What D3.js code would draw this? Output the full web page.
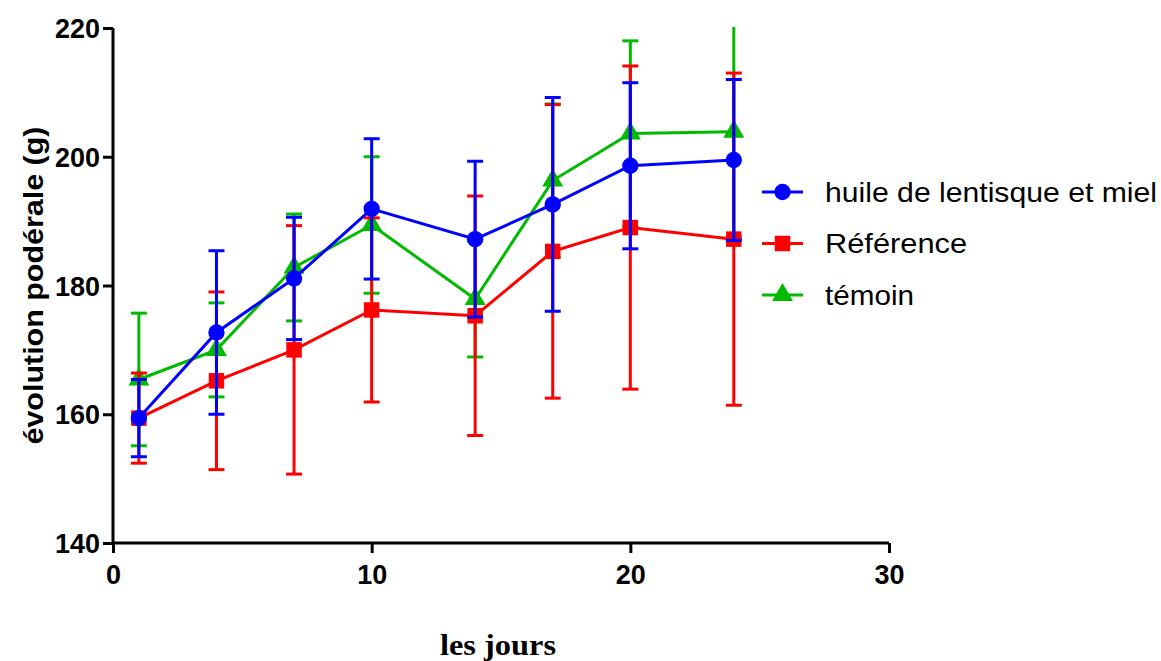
<!DOCTYPE html>
<html>
<head>
<meta charset="utf-8">
<script src="https://cdn.jsdelivr.net/npm/d3@7"></script>
<style>
  body { margin: 0; background: #fff; }
</style>
</head>
<body>
<script>
// data
const days = [1, 4, 7, 10, 14, 17, 20, 24];
const seriesNames = ["huile de lentisque et miel", "Référence", "témoin"];
const huileMean = [159.4, 172.7, 181.1, 191.9, 187.2, 192.6, 198.6, 199.5];
const huileErr  = [6.0, 12.7, 9.5, 10.9, 12.1, 16.6, 12.9, 12.5];
const refMean   = [159.4, 165.2, 170.0, 176.2, 175.3, 185.3, 189.0, 187.2];
const refErr    = [7.0, 13.8, 19.3, 14.3, 18.6, 22.8, 25.1, 25.8];
const temMean   = [165.4, 170.0, 182.8, 189.4, 177.9, 196.3, 203.6, 203.9];
const temErr    = [10.3, 7.3, 8.3, 10.6, 9.0, 11.9, 14.4, 16.5];
const xTicks = [0, 10, 20, 30];
const yTicks = [140, 160, 180, 200, 220];

const width = 1161, height = 661;
const margin = { top: 28, right: 272, bottom: 118, left: 113 };

const svg = d3.select("body").append("svg")
    .attr("width", width)
    .attr("height", height);

const x = d3.scaleLinear().domain([0, 30]).range([margin.left, width - margin.right]);
const y = d3.scaleLinear().domain([140, 220]).range([height - margin.bottom, margin.top]);

const series = [
    { name: seriesNames[2], color: "#00bb00", mean: temMean, err: temErr, symbol: d3.symbolTriangle, size: 190 },
    { name: seriesNames[1], color: "#ff0000", mean: refMean, err: refErr, symbol: d3.symbolSquare, size: 240 },
    { name: seriesNames[0], color: "#0000ff", mean: huileMean, err: huileErr, symbol: d3.symbolCircle, size: 210 }
];

// clip so bars stop at the top of the plot
svg.append("clipPath").attr("id", "plot-clip")
    .append("rect")
    .attr("x", margin.left).attr("y", margin.top - 1)
    .attr("width", width - margin.right - margin.left + 10)
    .attr("height", height - margin.bottom - margin.top + 20);

const plot = svg.append("g").attr("clip-path", "url(#plot-clip)");

series.forEach(s => {
    const pts = days.map((d, i) => ({ x: d, m: s.mean[i], e: s.err[i] }));
    const g = plot.append("g");

    // error bars
    g.selectAll(".bar").data(pts).join("line")
        .attr("x1", d => x(d.x)).attr("x2", d => x(d.x))
        .attr("y1", d => y(d.m - d.e)).attr("y2", d => y(d.m + d.e))
        .attr("stroke", s.color).attr("stroke-width", 3);
    ["lo", "hi"].forEach(k => {
        g.selectAll(".cap-" + k).data(pts).join("line")
            .attr("x1", d => x(d.x) - 8).attr("x2", d => x(d.x) + 8)
            .attr("y1", d => y(k === "lo" ? d.m - d.e : d.m + d.e))
            .attr("y2", d => y(k === "lo" ? d.m - d.e : d.m + d.e))
            .attr("stroke", s.color).attr("stroke-width", 3);
    });

    // line
    g.append("path").datum(pts)
        .attr("fill", "none")
        .attr("stroke", s.color)
        .attr("stroke-width", 3)
        .attr("d", d3.line().x(d => x(d.x)).y(d => y(d.m)));

    // markers
    g.selectAll(".mk").data(pts).join("path")
        .attr("transform", d => `translate(${x(d.x)},${y(d.m)})`)
        .attr("d", d3.symbol().type(s.symbol).size(s.size))
        .attr("fill", s.color);
});

// axes
const xAxis = svg.append("g")
    .attr("transform", `translate(0,${y(140)})`)
    .call(d3.axisBottom(x).tickValues(xTicks).tickSize(10).tickPadding(12).tickFormat(d3.format("d")));
const yAxis = svg.append("g")
    .attr("transform", `translate(${x(0)},0)`)
    .call(d3.axisLeft(y).tickValues(yTicks).tickSize(10).tickPadding(3).tickFormat(d3.format("d")));

[xAxis, yAxis].forEach(a => {
    a.select(".domain").attr("stroke", "#000").attr("stroke-width", 3);
    a.selectAll(".tick line").attr("stroke", "#000").attr("stroke-width", 3);
    a.selectAll(".tick text")
        .attr("fill", "#000")
        .style("font-family", "Liberation Sans, Arial, sans-serif")
        .style("font-weight", "bold")
        .style("font-size", "27px");
});
xAxis.select(".domain").attr("d", `M${x(0)},0H${x(30)}`);
yAxis.select(".domain").attr("d", `M0,${y(140)}V${y(220)}`);
yAxis.selectAll(".tick text").attr("dy", "0.36em");
xAxis.selectAll(".tick text").attr("dy", "0.7em");

// axis titles
svg.append("text")
    .attr("transform", `translate(43,${(y(140) + y(220)) / 2}) rotate(-90)`)
    .attr("text-anchor", "middle")
    .attr("textLength", 318)
    .attr("lengthAdjust", "spacingAndGlyphs")
    .style("font-family", "Liberation Sans, Arial, sans-serif")
    .style("font-weight", "bold")
    .style("font-size", "27px")
    .text("évolution podérale (g)");

svg.append("text")
    .attr("x", 498)
    .attr("y", 655)
    .attr("text-anchor", "middle")
    .attr("textLength", 116)
    .attr("lengthAdjust", "spacingAndGlyphs")
    .style("font-family", "Liberation Serif, Times New Roman, serif")
    .style("font-weight", "bold")
    .style("font-size", "29px")
    .text("les jours");

// legend
const legend = svg.append("g").attr("transform", "translate(762,192)");
const legendWidths = [332, 142, 89];
[series[2], series[1], series[0]].forEach((s, i) => {
    const item = legend.append("g").attr("transform", `translate(0,${i * 51.5})`);
    item.append("line")
        .attr("x1", 0).attr("x2", 41)
        .attr("stroke", s.color).attr("stroke-width", 3);
    item.append("path")
        .attr("transform", "translate(20.5,0)")
        .attr("d", d3.symbol().type(s.symbol).size(s.size))
        .attr("fill", s.color);
    item.append("text")
        .attr("x", 63)
        .attr("y", 0)
        .attr("dy", "0.35em")
        .attr("textLength", legendWidths[i])
        .attr("lengthAdjust", "spacingAndGlyphs")
        .style("font-family", "Liberation Sans, Arial, sans-serif")
        .style("font-size", "28px")
        .text(s.name);
});
</script>
</body>
</html>
